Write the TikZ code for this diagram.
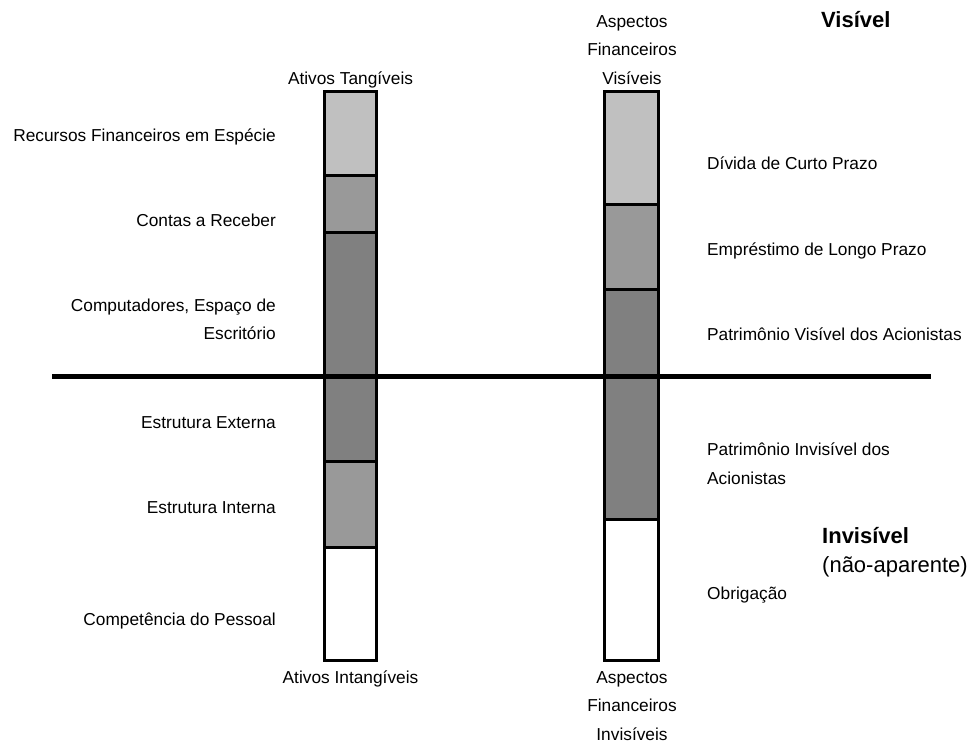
\documentclass[tikz,border=0pt]{standalone}
\usepackage{fontspec}
\setmainfont{Liberation Sans}
\definecolor{lgray}{HTML}{C0C0C0}
\definecolor{mgray}{HTML}{999999}
\definecolor{dgray}{HTML}{808080}
\begin{document}
\begin{tikzpicture}[x=1pt,y=-1pt,
  lbl/.style={inner sep=0pt, font=\fontsize{17.3}{28.5}\selectfont},
  big/.style={inner sep=0pt, font=\bfseries\fontsize{22}{29.5}\selectfont},
  bignorm/.style={inner sep=0pt, font=\fontsize{22}{29.5}\selectfont},
  frame/.style={draw=black, line width=3pt},
  divider/.style={draw=black, line width=3pt},
  horizon/.style={draw=black, line width=4.7pt}]
\useasboundingbox (0,0) rectangle (972,745);

% left bar
\fill[lgray] (324,91) rectangle (376,175);
\fill[mgray] (324,175) rectangle (376,232);
\fill[dgray] (324,232) rectangle (376,461);
\fill[mgray] (324,461) rectangle (376,547);
\fill[white] (324,547) rectangle (376,660);
\draw[divider] (324,175) -- (376,175);
\draw[divider] (324,232) -- (376,232);
\draw[divider] (324,461) -- (376,461);
\draw[divider] (324,547) -- (376,547);
\draw[frame] (324,91) rectangle (376,660);

% right bar
\fill[lgray] (604.5,91) rectangle (658,204);
\fill[mgray] (604.5,204) rectangle (658,289);
\fill[dgray] (604.5,289) rectangle (658,519);
\fill[white] (604.5,519) rectangle (658,660);
\draw[divider] (604.5,204) -- (658,204);
\draw[divider] (604.5,289) -- (658,289);
\draw[divider] (604.5,519) -- (658,519);
\draw[frame] (604.5,91) rectangle (658,660);

% horizon line
\coordinate (hl) at (52,376.5);
\coordinate (hr) at (931,376.5);
\draw[horizon] (hl) -- (hr);

% column titles
\node[lbl, anchor=base] (tang) at (350.5,84) {Ativos Tangíveis};
\node[lbl, anchor=base] (intang) at (350.5,683) {Ativos Intangíveis};
\node[lbl, anchor=base] (afv1) at (632,27) {Aspectos};
\node[lbl, anchor=base] (afv2) at (632,55.5) {Financeiros};
\node[lbl, anchor=base] (afv3) at (632,84) {Visíveis};
\node[lbl, anchor=base] (afi1) at (632,683) {Aspectos};
\node[lbl, anchor=base] (afi2) at (632,711.5) {Financeiros};
\node[lbl, anchor=base] (afi3) at (632,740) {Invisíveis};

% left labels
\node[lbl, anchor=base east] (l1) at (276,141) {Recursos Financeiros em Espécie};
\node[lbl, anchor=base east] (l2) at (276,226) {Contas a Receber};
\node[lbl, anchor=base east] (l3a) at (276,311) {Computadores, Espaço de};
\node[lbl, anchor=base east] (l3b) at (276,339.5) {Escritório};
\node[lbl, anchor=base east] (l4) at (276,428) {Estrutura Externa};
\node[lbl, anchor=base east] (l5) at (276,513) {Estrutura Interna};
\node[lbl, anchor=base east] (l6) at (276,625) {Competência do Pessoal};

% right labels
\node[lbl, anchor=base west] (r1) at (707,169) {Dívida de Curto Prazo};
\node[lbl, anchor=base west] (r2) at (707,255) {Empréstimo de Longo Prazo};
\node[lbl, anchor=base west] (r3) at (707,340) {Patrimônio Visível dos Acionistas};
\node[lbl, anchor=base west] (r4a) at (707,455) {Patrimônio Invisível dos};
\node[lbl, anchor=base west] (r4b) at (707,484) {Acionistas};
\node[lbl, anchor=base west] (r5) at (707,599) {Obrigação};

% zone labels
\node[big, anchor=base west] (vis) at (821,27) {Visível};
\node[big, anchor=base west] (invis) at (822,543) {Invisível};
\node[bignorm, anchor=base west] (naoap) at (822,572) {(não-aparente)};
\end{tikzpicture}
\end{document}
